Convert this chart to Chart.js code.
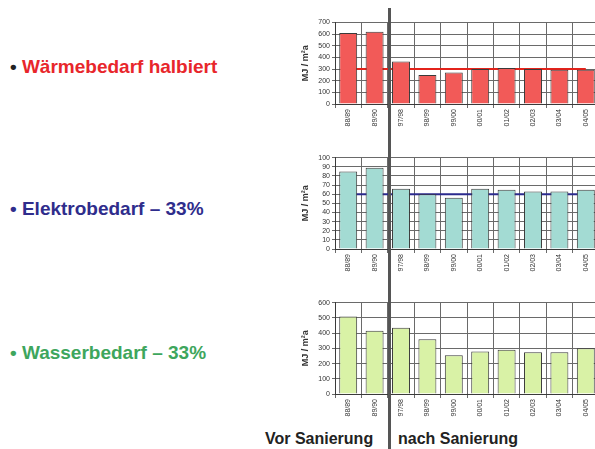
<!DOCTYPE html>
<html>
<head>
<meta charset="utf-8">
<script src="https://cdn.jsdelivr.net/npm/chart.js@4.4.1/dist/chart.umd.min.js"></script>
<style>
  body { margin: 0; width: 595px; height: 449px; overflow: hidden; background: #fff; position: relative;
         font-family: "Liberation Sans", Arial, sans-serif; }
  .note { position: absolute; left: 10px; font-weight: bold; font-size: 19px; line-height: 19px; white-space: nowrap; }
  .phase { position: absolute; top: 431px; font-weight: bold; font-size: 16px; line-height: 16px; color: #222; white-space: nowrap; }
  .box { position: absolute; left: 296px; }
  #divider { position: absolute; left: 388px; top: 8px; width: 3px; height: 441px; background: #555; }
</style>
</head>
<body>

<div class="note" style="top:57px;color:#e8262b"><span style="color:#222">•</span> Wärmebedarf halbiert</div>
<div class="note" style="top:199px;color:#2f2d8c">• Elektrobedarf – 33%</div>
<div class="note" style="top:343px;color:#3ea65d">• Wasserbedarf – 33%</div>

<div class="box" style="top:14px"><canvas id="heat-chart" width="320" height="116"></canvas></div>
<div class="box" style="top:149px"><canvas id="power-chart" width="320" height="126"></canvas></div>
<div class="box" style="top:294px"><canvas id="water-chart" width="320" height="126"></canvas></div>

<div id="divider"></div>
<div class="phase" style="left:265px">Vor Sanierung</div>
<div class="phase" style="left:398px">nach Sanierung</div>

<script>
  // Heizperioden
  const SEASONS = ['88/89', '89/90', '97/98', '98/99', '99/00', '00/01', '01/02', '02/03', '03/04', '04/05'];

  // MJ / m²a
  const HEAT = [610, 620, 365, 250, 270, 300, 310, 300, 295, 295];
  const HEAT_TARGET = [300, 300, 300, 300, 300, 300, 300, 300, 300, 300];
  const POWER = [85, 89, 66, 60, 56, 66, 65, 63, 63, 65];
  const POWER_TARGET = [60, 60, 60, 60, 60, 60, 60, 60, 60, 60];
  const WATER = [510, 415, 435, 360, 255, 280, 290, 275, 275, 300];

  const HEAT_TICKS = { max: 700, step: 100 };
  const POWER_TICKS = { max: 100, step: 10 };
  const WATER_TICKS = { max: 600, step: 100 };

  const COLORS = {
    heat: '#f25a58',
    power: '#a3dbd3',
    water: '#d9f2a6',
    heatLine: '#e3231b',
    powerLine: '#2b2a8e',
    edge: '#3a3a3a',
    grid: '#6a6a6a',
    text: '#333'
  };

  function renderChart(canvasId, values, fill, ticks, target, targetColor, topPad) {
    const datasets = [{
      type: 'bar',
      data: values,
      backgroundColor: fill,
      borderColor: COLORS.edge,
      borderWidth: 1,
      barPercentage: 0.68,
      categoryPercentage: 1,
      order: 1
    }];
    if (target) {
      datasets.push({
        type: 'line',
        data: target,
        borderColor: targetColor,
        borderWidth: 2,
        pointRadius: 0,
        fill: false,
        order: 2
      });
    }

    return new Chart(document.getElementById(canvasId), {
      type: 'bar',
      data: { labels: SEASONS, datasets: datasets },
      options: {
        responsive: false,
        animation: false,
        layout: { padding: { top: topPad, right: 17, bottom: 0, left: 0 } },
        plugins: { legend: { display: false }, tooltip: { enabled: false } },
        scales: {
          x: {
            afterFit: function (scale) { scale.height = 26; },
            grid: { color: COLORS.grid, offset: true, tickLength: 4 },
            border: { color: COLORS.edge },
            ticks: {
              autoSkip: false, maxRotation: 90, minRotation: 90, padding: 1,
              color: COLORS.text, font: { family: 'Liberation Sans', size: 7 }
            }
          },
          y: {
            min: 0,
            max: ticks.max,
            afterFit: function (scale) { scale.width = 39; },
            grid: { color: COLORS.grid, tickLength: 3 },
            border: { color: COLORS.edge },
            ticks: {
              stepSize: ticks.step, autoSkip: false, padding: 2,
              color: COLORS.text, font: { family: 'Liberation Sans', size: 7 }
            },
            title: {
              display: true,
              text: 'MJ / m²a',
              color: COLORS.text,
              padding: { top: 4, bottom: 0 },
              font: { family: 'Liberation Sans', size: 9, weight: 'bold' }
            }
          }
        }
      }
    });
  }

  renderChart('heat-chart', HEAT, COLORS.heat, HEAT_TICKS, HEAT_TARGET, COLORS.heatLine, 8.5);
  renderChart('power-chart', POWER, COLORS.power, POWER_TICKS, POWER_TARGET, COLORS.powerLine, 8.7);
  renderChart('water-chart', WATER, COLORS.water, WATER_TICKS, null, null, 8.7);
</script>
</body>
</html>
